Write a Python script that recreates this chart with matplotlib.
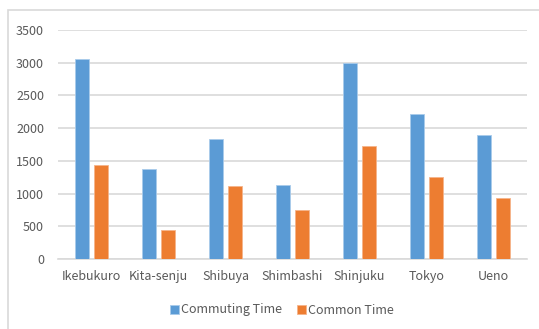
import numpy as np
import matplotlib
matplotlib.use("Agg")
import matplotlib.pyplot as plt
from matplotlib.patches import Rectangle

stations = ['Ikebukuro', 'Kita-senju', 'Shibuya', 'Shimbashi', 'Shinjuku', 'Tokyo', 'Ueno']
commuting = [3050, 1370, 1835, 1125, 2990, 2210, 1890]
common = [1430, 450, 1115, 750, 1730, 1260, 930]
yticks = [0, 500, 1000, 1500, 2000, 2500, 3000, 3500]

plt.rcParams['font.family'] = ['Noto Sans CJK SC', 'DejaVu Sans']
grey = '#595959'
grid = '#D9D9D9'

fig = plt.figure(figsize=(5.39, 3.29), dpi=100)
ax = fig.add_axes([58/539, 1 - 259/329, (527-58)/539, (259-30)/329])

# outer chart border
fig.patches.append(Rectangle((8/539, -0.01), 1.0, 1 - 10/329 + 0.01,
                             transform=fig.transFigure, fill=False,
                             edgecolor=grid, linewidth=1.2))

x = np.arange(len(stations))
w = 0.215
off = 0.145
ax.bar(x - off, commuting, w, color='#5B9BD5', edgecolor='#A9CBEB', linewidth=0.6,
       label='Commuting Time', zorder=3)
ax.bar(x + off, common, w, color='#ED7D31', edgecolor='#F5B48A', linewidth=0.6,
       label='Common Time', zorder=3)

ax.set_xlim(-0.5, len(stations) - 0.5)
ax.set_ylim(0, 3500)
ax.set_yticks(yticks)
ax.set_xticks(x)
ax.set_xticklabels(stations)
ax.yaxis.grid(True, color=grid, linewidth=1.2, zorder=0)
for s in ['top', 'right', 'left']:
    ax.spines[s].set_visible(False)
ax.spines['bottom'].set_color(grid)
ax.spines['bottom'].set_linewidth(1.2)
ax.tick_params(axis='both', length=0, colors=grey, labelsize=9)
ax.tick_params(axis='y', pad=10)
ax.tick_params(axis='x', pad=8)

leg = fig.legend(loc='center', bbox_to_anchor=(282/539, 1 - 310/329), ncol=2,
                 frameon=False, fontsize=9, handlelength=0.7, handleheight=0.7,
                 handletextpad=0.2, columnspacing=1.2)
for t in leg.get_texts():
    t.set_color(grey)

fig.savefig('out.png', dpi=100)
